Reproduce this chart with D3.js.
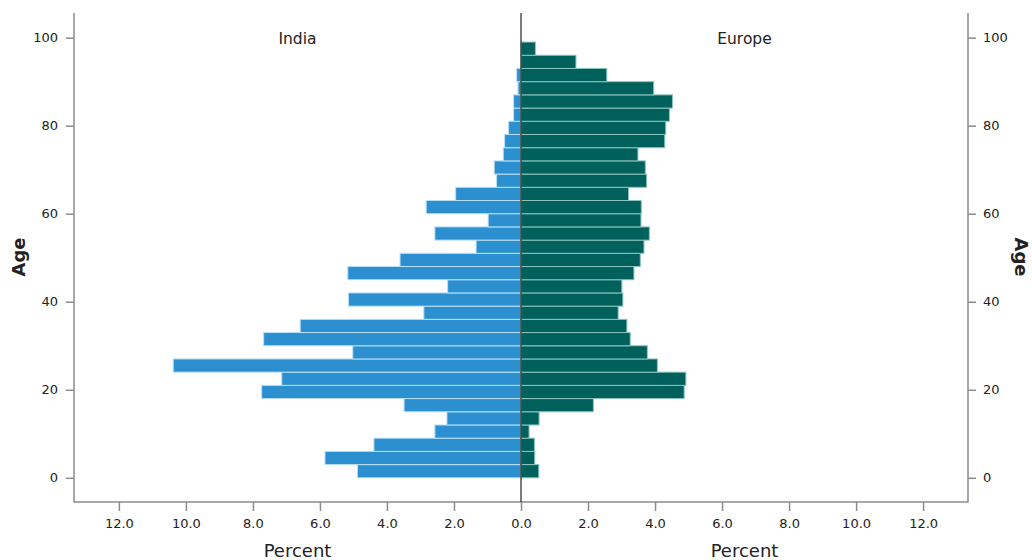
<!DOCTYPE html>
<html>
<head>
<meta charset="utf-8">
<script src="https://cdn.jsdelivr.net/npm/d3@7"></script>
<style>
  body { margin: 0; background: #fff; }
  text { font-family: "DejaVu Sans", sans-serif; fill: #222; }
</style>
</head>
<body>
<svg id="chart"></svg>
<script>
// age bins (3-year), bottom to top
const ageStart = [0, 3, 6, 9, 12, 15, 18, 21, 24, 27, 30, 33, 36, 39, 42, 45, 48,
    51, 54, 57, 60, 63, 66, 69, 72, 75, 78, 81, 84, 87, 90, 93, 96];
const binWidth = 3;
const indiaPct = [4.88, 5.85, 4.39, 2.57, 2.21, 3.49, 7.74, 7.14, 10.38, 5.02, 7.68,
    6.59, 2.90, 5.15, 2.19, 5.17, 3.61, 1.34, 2.57, 0.98, 2.83, 1.95, 0.73, 0.80,
    0.53, 0.49, 0.37, 0.22, 0.22, 0.09, 0.13, 0, 0];
const europePct = [0.53, 0.41, 0.40, 0.24, 0.54, 2.16, 4.87, 4.92, 4.07, 3.77, 3.26,
    3.16, 2.90, 3.04, 3.01, 3.37, 3.56, 3.67, 3.83, 3.58, 3.59, 3.21, 3.75, 3.71,
    3.49, 4.29, 4.32, 4.43, 4.52, 3.96, 2.56, 1.64, 0.43];
const ageTicks = [0, 20, 40, 60, 80, 100];
const pctTicksLeft = [2, 4, 6, 8, 10, 12];
const pctTicksRight = [0, 2, 4, 6, 8, 10, 12];

const width = 1032, height = 560;
const plot = { left: 74, right: 968, mid: 521, top: 13, bottom: 502 };

const svg = d3.select('#chart').attr('width', width).attr('height', height);

// scales
const yscale = d3.scaleLinear().domain([-5.5, 105.6]).range([plot.bottom, plot.top]);
const xLeft = d3.scaleLinear().domain([0, 13.34]).range([plot.mid, plot.left]);
const xRight = d3.scaleLinear().domain([0, 13.34]).range([plot.mid, plot.right]);

const rows = ageStart.map((a, i) => ({ a, india: indiaPct[i], europe: europePct[i] }));

// India bars
svg.append('g').selectAll('rect').data(rows).join('rect')
    .attr('x', (d) => xLeft(d.india))
    .attr('y', (d) => yscale(d.a + binWidth))
    .attr('width', (d) => xLeft(0) - xLeft(d.india))
    .attr('height', (d) => yscale(d.a) - yscale(d.a + binWidth))
    .attr('fill', '#2b8fd0')
    .attr('stroke', (d) => d.india > 0 ? '#b9e0f5' : 'none')
    .attr('stroke-width', 1);

// Europe bars
svg.append('g').selectAll('rect').data(rows).join('rect')
    .attr('x', xRight(0))
    .attr('y', (d) => yscale(d.a + binWidth))
    .attr('width', (d) => xRight(d.europe) - xRight(0))
    .attr('height', (d) => yscale(d.a) - yscale(d.a + binWidth))
    .attr('fill', '#00615c')
    .attr('stroke', '#8cc4bf')
    .attr('stroke-width', 1);

// axes
const axisColor = '#8c8c8c';
function styleAxis(g) {
    g.select('.domain').remove();
    g.selectAll('.tick line').attr('stroke', axisColor).attr('stroke-width', 1.5);
    g.selectAll('.tick text').style('font-size', '13px').attr('fill', '#222');
}

svg.append('g')
    .attr('transform', `translate(${plot.left},0)`)
    .call(d3.axisLeft(yscale).tickValues(ageTicks).tickSize(8).tickPadding(8))
    .call(styleAxis);

svg.append('g')
    .attr('transform', `translate(${plot.right},0)`)
    .call(d3.axisRight(yscale).tickValues(ageTicks).tickSize(8).tickPadding(7))
    .call(styleAxis);

svg.append('g')
    .attr('transform', `translate(0,${plot.bottom})`)
    .call(d3.axisBottom(xLeft).tickValues(pctTicksLeft).tickFormat(d3.format('.1f')).tickSize(9).tickPadding(8))
    .call(styleAxis);

svg.append('g')
    .attr('transform', `translate(0,${plot.bottom})`)
    .call(d3.axisBottom(xRight).tickValues(pctTicksRight).tickFormat(d3.format('.1f')).tickSize(9).tickPadding(8))
    .call(styleAxis);

// frame lines (no top)
svg.append('path')
    .attr('d', `M${plot.left},${plot.top}V${plot.bottom}H${plot.right}V${plot.top}`)
    .attr('fill', 'none')
    .attr('stroke', axisColor)
    .attr('stroke-width', 1.5);

// centre line
svg.append('line')
    .attr('x1', plot.mid).attr('x2', plot.mid)
    .attr('y1', plot.top).attr('y2', plot.bottom)
    .attr('stroke', '#333')
    .attr('stroke-width', 1.3);

// panel titles
svg.append('text').attr('x', (plot.left + plot.mid) / 2).attr('y', 44)
    .attr('text-anchor', 'middle').style('font-size', '15.5px').text('India');
svg.append('text').attr('x', (plot.mid + plot.right) / 2).attr('y', 44)
    .attr('text-anchor', 'middle').style('font-size', '15.5px').text('Europe');

// axis titles
svg.append('text').attr('x', (plot.left + plot.mid) / 2).attr('y', 557)
    .attr('text-anchor', 'middle').style('font-size', '18px').text('Percent');
svg.append('text').attr('x', (plot.mid + plot.right) / 2).attr('y', 557)
    .attr('text-anchor', 'middle').style('font-size', '18px').text('Percent');

svg.append('text')
    .attr('transform', 'translate(25,257) rotate(-90)')
    .attr('text-anchor', 'middle').style('font-size', '18px').style('font-weight', 'bold')
    .text('Age');
svg.append('text')
    .attr('transform', 'translate(1015,257) rotate(90)')
    .attr('text-anchor', 'middle').style('font-size', '18px').style('font-weight', 'bold')
    .text('Age');
</script>
</body>
</html>
